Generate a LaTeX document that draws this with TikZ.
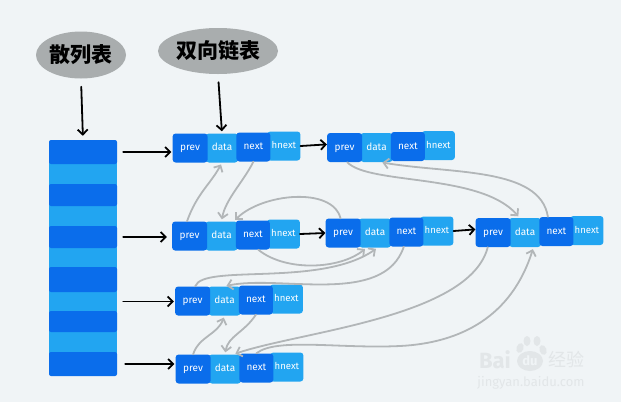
\documentclass[tikz,border=0pt]{standalone}
\usepackage{fontspec}
\setmainfont{Fira Sans}
\newfontfamily\cjk{Noto Sans CJK SC}
\usepackage{tikz}
\usetikzlibrary{arrows.meta}
\usetikzlibrary{positioning, shapes.geometric}
\definecolor{bgpage}{HTML}{F0F4F6}
\definecolor{darkcell}{HTML}{0A6DEB}
\definecolor{lightcell}{HTML}{22A5F1}
\definecolor{labelgrey}{HTML}{A9ADAE}
\definecolor{linkgrey}{HTML}{B2B6B8}
\definecolor{markgrey}{HTML}{E2E6E8}

\begin{document}
\begin{tikzpicture}[x=1pt,y=-1pt,>={Straight Barb[length=5pt,width=10pt]},
    cell/.style={rounded corners=3pt,text=white,inner sep=0pt,minimum height=29pt,font=\fontsize{10}{11}\selectfont,text height=7pt,text depth=2pt},
    prev cell/.style={cell,fill=darkcell,minimum width=35pt},
    data cell/.style={cell,fill=lightcell,minimum width=32pt},
    next cell/.style={cell,fill=darkcell,minimum width=34pt,yshift=1pt},
    hnext cell/.style={cell,fill=lightcell,minimum width=33pt,yshift=2pt,font=\fontsize{9.6}{11}\selectfont},
    dark strip/.style={rounded corners=2pt,fill=darkcell,minimum width=68pt,inner sep=0pt},
    light strip/.style={fill=lightcell,minimum width=68pt,inner sep=0pt},
    label cloud/.style={ellipse,fill=labelgrey,inner sep=0pt,font=\cjk\bfseries\fontsize{21}{21}\selectfont},
    pointer/.style={->,black,line width=1.8pt,line cap=round},
    link/.style={->,linkgrey,line width=1.8pt,line cap=round,shorten >=2pt},
    water mark/.style={text=markgrey,inner sep=0pt},
    toe/.style={ellipse,fill=markgrey,inner sep=0pt}]

    \path[fill=bgpage,use as bounding box] (0,0) rectangle (621,402);

    % hash table
    \node[light strip,minimum height=24pt] (t2)  at (83,174)   {};
    \node[light strip,minimum height=24pt] (t4)  at (83,216)   {};
    \node[light strip,minimum height=23pt] (t6)  at (83,257.5) {};
    \node[light strip,minimum height=23pt] (t8)  at (83,301.5) {};
    \node[light strip,minimum height=24pt] (t10) at (83,342)   {};
    \node[dark strip,minimum height=24pt]  (t1)  at (83,152)   {};
    \node[dark strip,minimum height=22pt]  (t3)  at (83,195)   {};
    \node[dark strip,minimum height=22pt]  (t5)  at (83,237)   {};
    \node[dark strip,minimum height=25pt]  (t7)  at (83,279.5) {};
    \node[dark strip,minimum height=21pt]  (t9)  at (83,321.5) {};
    \node[dark strip,minimum height=24pt]  (t11) at (83,364)   {};

    % labels
    \node[label cloud,minimum width=90pt,minimum height=47pt]  (table label) at (81,55)  {散列表};
    \node[label cloud,minimum width=120pt,minimum height=46pt] (list label)  at (218,51) {双向链表};

    % list nodes
    \node[data cell]                  (da) at (222,148) {data};
    \node[hnext cell,right=29pt of da] (ha) {hnext};
    \node[prev cell,left=-2pt of da]  (pa) {prev};
    \node[next cell,right=-2pt of da] (na) {next};

    \node[data cell]                  (db) at (376.5,147.5) {data};
    \node[hnext cell,right=29pt of db] (hb) {hnext};
    \node[prev cell,left=-2pt of db]  (pb) {prev};
    \node[next cell,right=-2pt of db] (nb) {next};

    \node[data cell]                  (dc) at (221.5,236) {data};
    \node[hnext cell,right=29pt of dc] (hc) {hnext};
    \node[prev cell,left=-2pt of dc]  (pc) {prev};
    \node[next cell,right=-2pt of dc] (nc) {next};

    \node[data cell]                  (dd) at (375,233) {data};
    \node[hnext cell,right=29pt of dd] (hd) {hnext};
    \node[prev cell,left=-2pt of dd]  (pd) {prev};
    \node[next cell,right=-2pt of dd] (nd) {next};

    \node[data cell]                  (de) at (525,232.5) {data};
    \node[hnext cell,right=29pt of de] (he) {hnext};
    \node[prev cell,left=-2pt of de]  (pe) {prev};
    \node[next cell,right=-2pt of de] (ne) {next};

    \node[data cell]                  (df) at (224.5,301) {data};
    \node[hnext cell,right=29pt of df] (hf) {hnext};
    \node[prev cell,left=-2pt of df]  (pf) {prev};
    \node[next cell,right=-2pt of df] (nf) {next};

    \node[data cell]                  (dg) at (225,369) {data};
    \node[hnext cell,right=29pt of dg] (hg) {hnext};
    \node[prev cell,left=-2pt of dg]  (pg) {prev};
    \node[next cell,right=-2pt of dg] (ng) {next};

    % black pointers
    \draw[pointer,shorten <=6pt,shorten >=1pt] (t1.east) -- (t1.east -| pa.west);
    \draw[pointer,shorten <=6pt,shorten >=5pt] (t5.east) -- (t5.east -| pc.west);
    \draw[pointer,shorten <=6pt,shorten >=1pt] (t8.east) -- (t8.east -| pf.west);
    \draw[pointer,shorten <=8pt,shorten >=1pt] (t11.east) -- (t11.east -| pg.west);
    \draw[pointer,shorten <=8pt,shorten >=4pt] (table label.south) -- (t1.north);
    \draw[pointer,shorten <=8pt,shorten >=2pt] (list label.south) -- (da.north);
    \draw[pointer] (ha.east) -- (pb.170);
    \draw[pointer] (hc.east) -- (pd.west);
    \draw[pointer] (hd.east) -- (pe.170);

    % grey links
    \draw[link] (pc.100) .. controls +(10,-28) and +(-12,22) .. (da.south);
    \draw[link] (na.south) .. controls +(-10,20) and +(4,-22) .. (dc.north);
    \draw[link] (pd.100) .. controls +(-8,-32) and +(28,-28) .. (dc.50);
    \draw[link] (nc.-70) .. controls +(27,22) and +(-27,22) .. (dd.-120);
    \draw[link] (pf.80) .. controls +(8,-23) and +(-57,40) .. (dd.-80);
    \draw[link] (nd.-100) .. controls +(-20,60) and +(55,-12) .. (df.north);
    \draw[link] (pg.north) .. controls +(6,-18) and +(-7,19) .. (df.south);
    \draw[link] (nf.south) .. controls +(-12,18) and +(3,-18) .. (dg.north);
    \draw[link] (pe.-110) .. controls +(-18,70) and +(68,-23) .. (dg.60);
    \coordinate (turn) at (400,346);
    \draw[link] (ng.north) .. controls +(20,-16) and +(-60,3) .. (turn) .. controls +(60,-3) and +(-22,70) .. (de.-60);
    \draw[link] (pb.-80) .. controls +(22,23) and +(-39,-45) .. (de.110);
    \draw[link] (ne.120) .. controls +(-8,-50) and +(71,12) .. (db.-75);

    % watermark
    \node[water mark,font=\bfseries\fontsize{22}{22}\selectfont] (bai) at (495,360) {Bai};
    \node[ellipse,fill=markgrey,minimum width=26pt,minimum height=20pt,inner sep=0pt,text=bgpage,font=\bfseries\fontsize{13}{13}\selectfont] (du) at (530,361) {du};
    \node[toe,minimum width=7pt,minimum height=10pt,rotate=-20] (toe a) at (520,348) {};
    \node[toe,minimum width=7pt,minimum height=10pt] (toe b) at (527,341) {};
    \node[toe,minimum width=7pt,minimum height=10pt] (toe c) at (537,341) {};
    \node[toe,minimum width=7pt,minimum height=10pt,rotate=20] (toe d) at (543,350) {};
    \node[water mark,font=\cjk\fontsize{18}{18}\selectfont] (jingyan) at (566,360) {经验};
    \node[water mark,font=\fontsize{13}{14}\selectfont] (site) at (531,383) {jingyan.baidu.com};
\end{tikzpicture}
\end{document}
